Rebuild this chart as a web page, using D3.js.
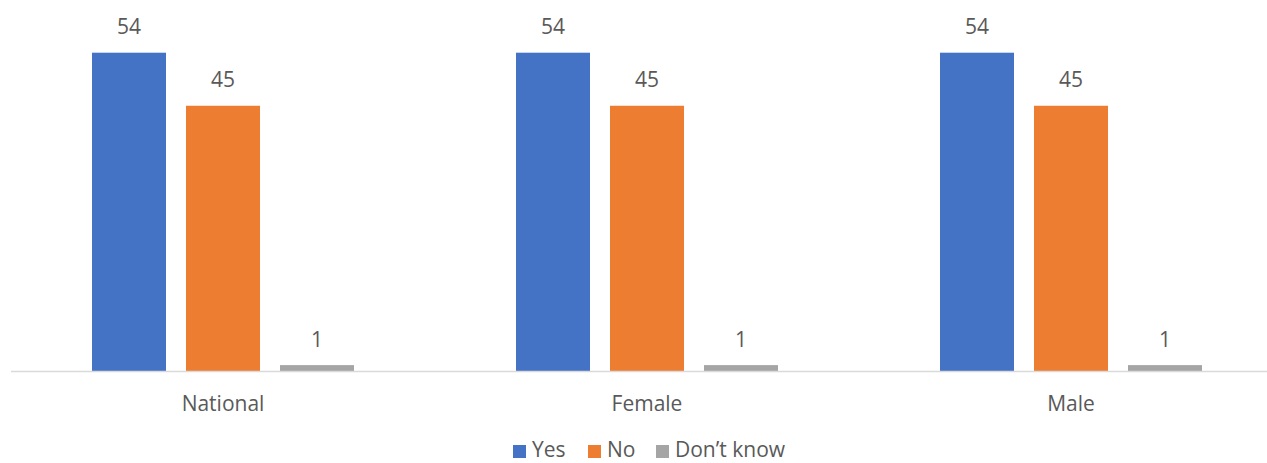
<!DOCTYPE html>
<html><head><meta charset="utf-8">
<script src="https://cdn.jsdelivr.net/npm/d3@7"></script>
<style>body{margin:0;background:#fff}svg{display:block}text{font-family:"Open Sans",sans-serif;fill:#595959}</style>
</head><body><svg id="c" width="1267" height="463"></svg>
<script>
const categories = ["National", "Female", "Male"];
const seriesNames = ["Yes", "No", "Don\u2019t know"];
const yesValues = [54, 54, 54];
const noValues = [45, 45, 45];
const dontKnowValues = [1, 1, 1];
const colors = ["#4472C4", "#ED7D31", "#A5A5A5"];

const series = [yesValues, noValues, dontKnowValues];
const svg = d3.select("#c");
const base = 371;
const x0 = d3.scaleBand().domain(categories).range([11, 1283]).padding(0);
const x1 = d3.scaleBand().domain(d3.range(3)).range([81, 343]).paddingInner(20/94).paddingOuter(0);
const y = d3.scaleLinear().domain([0, 54]).range([base, 52.7]);

const g = svg.append("g");
categories.forEach((c, ci) => {
  const gg = g.append("g").attr("transform", `translate(${x0(c)},0)`);
  series.forEach((vals, si) => {
    gg.append("rect").attr("x", x1(si)).attr("width", x1.bandwidth())
      .attr("y", y(vals[ci])).attr("height", base - y(vals[ci])).attr("fill", colors[si]);
    gg.append("text").attr("x", x1(si) + x1.bandwidth()/2).attr("y", y(vals[ci]) - 18.5)
      .attr("text-anchor", "middle").attr("font-size", 21).text(vals[ci]);
  });
});
svg.append("line").attr("x1", 11).attr("x2", 1267).attr("y1", base + 0.5).attr("y2", base + 0.5)
  .attr("stroke", "#D9D9D9").attr("stroke-width", 1.5);
const xAxis = d3.axisBottom(x0).tickSize(0).tickPadding(0);
const ax = svg.append("g").attr("transform", `translate(0,${base})`).call(xAxis);
ax.select(".domain").remove();
ax.selectAll("text").attr("font-size", 21).attr("dy", null).attr("y", 40).style("fill", "#595959");

const legendX = [513, 588, 656];
const lg = svg.append("g");
seriesNames.forEach((n, i) => {
  lg.append("rect").attr("x", legendX[i]).attr("y", 445).attr("width", 13).attr("height", 13).attr("fill", colors[i]);
  lg.append("text").attr("x", legendX[i] + 19).attr("y", 457).attr("font-size", 21).text(n);
});
</script></body></html>
